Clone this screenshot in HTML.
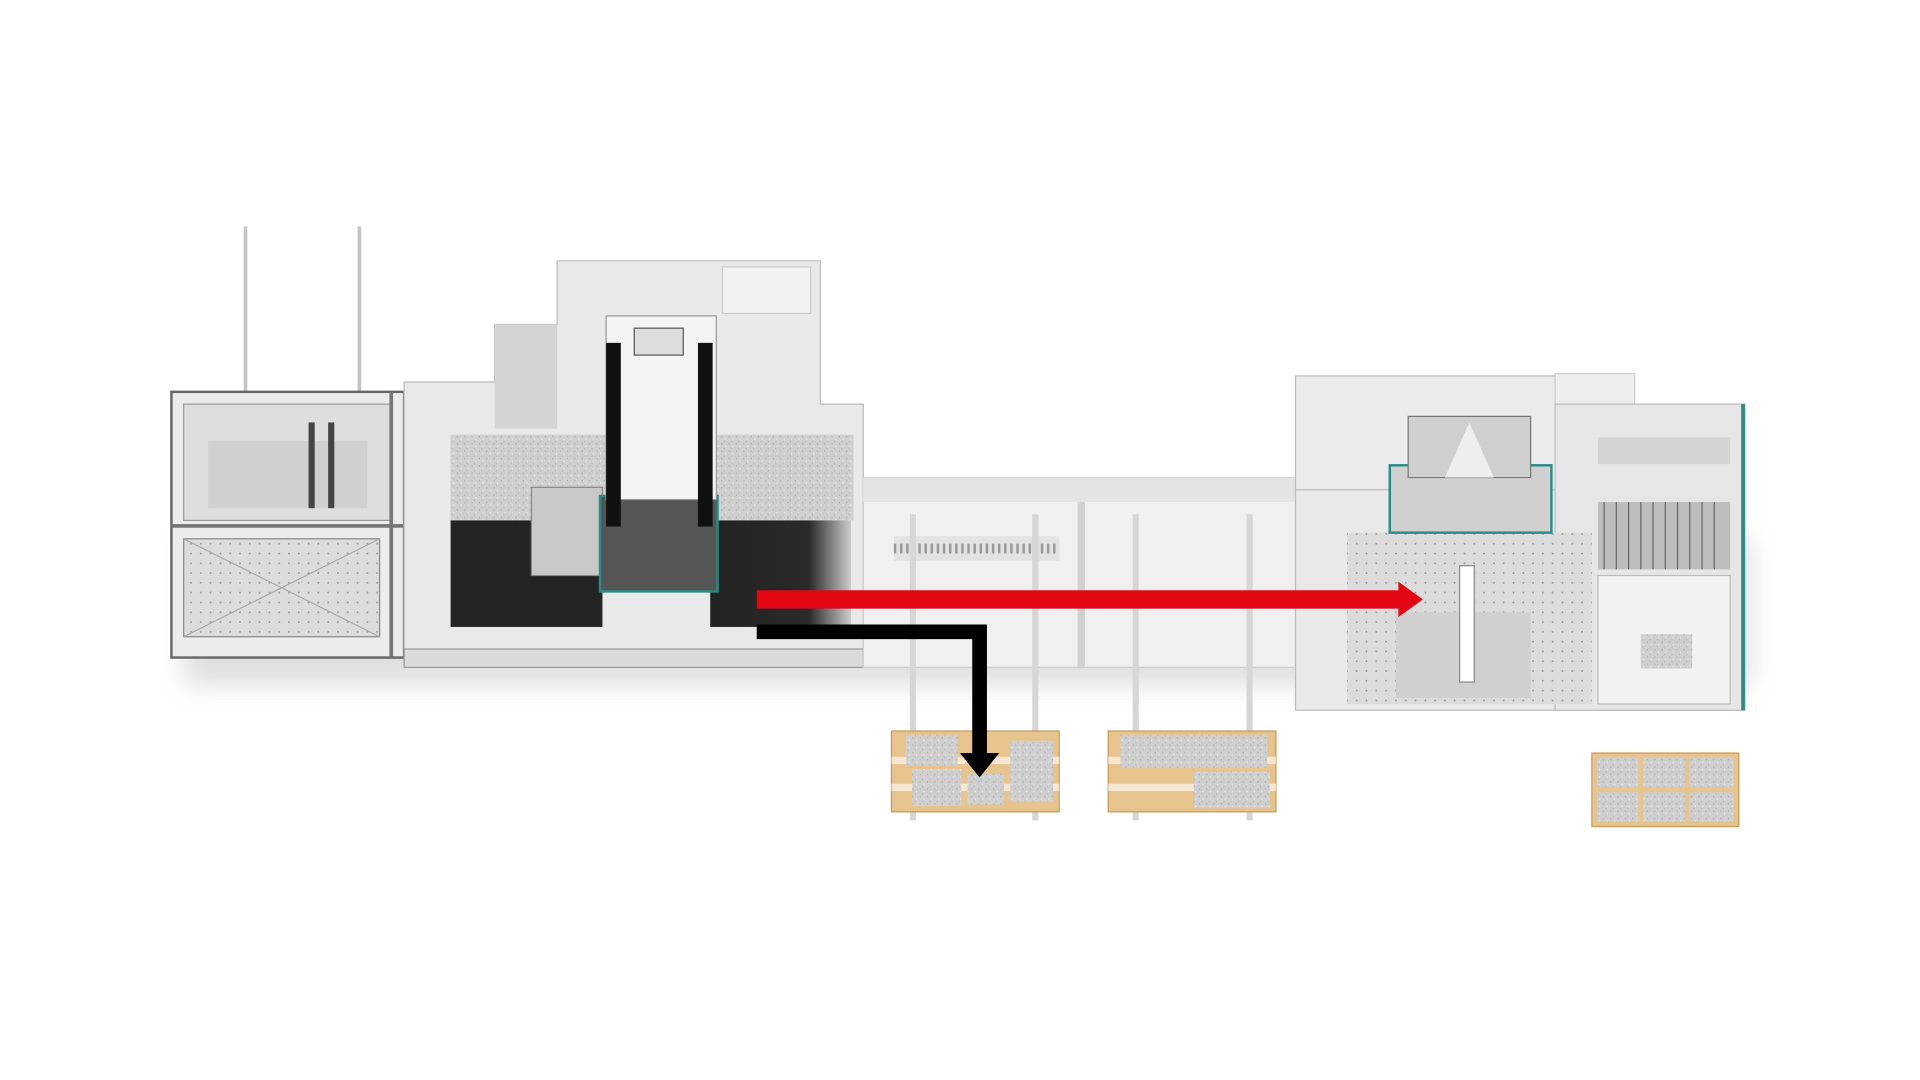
<!DOCTYPE html>
<html><head><meta charset="utf-8"><style>html,body{margin:0;padding:0;background:#fff;width:1920px;height:1080px;overflow:hidden}</style></head>
<body>
<svg width="1920" height="1080" viewBox="0 0 1568 882" preserveAspectRatio="none" xmlns="http://www.w3.org/2000/svg">
<defs>
<pattern id="dots" width="8" height="8" patternUnits="userSpaceOnUse"><rect width="8" height="8" fill="#dcdcdc"/><circle cx="4" cy="4" r="0.8" fill="#999"/></pattern>
<pattern id="gran" width="6" height="6" patternUnits="userSpaceOnUse"><rect width="6" height="6" fill="#cfcfcf"/><rect x="1" y="2" width="1" height="1" fill="#a8a8a8"/><rect x="4" y="4" width="1" height="1" fill="#eee"/><rect x="3" y="0" width="1" height="1" fill="#b5b5b5"/></pattern>
<linearGradient id="blk" x1="0" x2="1"><stop offset="0" stop-color="#222"/><stop offset="0.7" stop-color="#2a2a2a"/><stop offset="1" stop-color="#ccc"/></linearGradient>
<filter id="sh" x="-10%" y="-30%" width="120%" height="160%"><feGaussianBlur stdDeviation="10"/></filter>
</defs>
<rect width="1568" height="882" fill="#fff"/>
<!-- shadows -->
<g filter="url(#sh)" opacity="0.3"><rect x="150" y="440" width="1280" height="120" fill="#999"/></g>
<!-- poles -->
<rect x="199" y="185" width="3" height="135" fill="#c4c4c4"/><rect x="292" y="185" width="3" height="135" fill="#c4c4c4"/>
<!-- left module -->
<rect x="140" y="320" width="190" height="217" fill="#ececec" stroke="#666" stroke-width="2"/>
<rect x="150" y="330" width="170" height="95" fill="#dedede" stroke="#999"/>
<rect x="150" y="440" width="160" height="80" fill="url(#dots)" stroke="#888"/>
<line x1="150" y1="440" x2="310" y2="520" stroke="#aaa"/><line x1="310" y1="440" x2="150" y2="520" stroke="#aaa"/>
<rect x="170" y="360" width="130" height="55" fill="#d0d0d0"/>
<rect x="252" y="345" width="5" height="70" fill="#444"/><rect x="268" y="345" width="5" height="70" fill="#444"/>
<rect x="140" y="428" width="190" height="3" fill="#777"/>
<rect x="318" y="320" width="3" height="217" fill="#777"/>
<!-- middle machine body -->
<path d="M455 213 H670 V330 H705 V545 H330 V312 H404 V265 H455 Z" fill="#e9e9e9" stroke="#bbb"/>
<rect x="404" y="265" width="51" height="85" fill="#d4d4d4"/>
<rect x="590" y="218" width="72" height="38" fill="#f2f2f2" stroke="#ccc"/>
<rect x="368" y="355" width="132" height="70" fill="url(#gran)"/>
<rect x="580" y="355" width="117" height="70" fill="url(#gran)"/>
<rect x="368" y="425" width="124" height="87" fill="#242424"/>
<rect x="580" y="425" width="115" height="87" fill="url(#blk)"/>
<rect x="434" y="398" width="58" height="72" fill="#c8c8c8" stroke="#888"/>
<rect x="490" y="405" width="96" height="78" fill="#555" stroke="#2a8a85" stroke-width="2"/>
<rect x="495" y="258" width="90" height="150" fill="#f4f4f4" stroke="#999"/>
<rect x="495" y="280" width="12" height="150" fill="#111"/><rect x="570" y="280" width="12" height="150" fill="#111"/>
<rect x="518" y="268" width="40" height="22" fill="#ddd" stroke="#555"/>
<rect x="330" y="530" width="375" height="15" fill="#dadada" stroke="#999"/>
<!-- conveyor -->
<rect x="705" y="390" width="355" height="155" fill="#f0f0f0" stroke="#ccc"/>
<rect x="705" y="390" width="355" height="20" fill="#e4e4e4"/>
<rect x="730" y="438" width="135" height="20" fill="#e2e2e2"/>
<line x1="730" y1="448" x2="865" y2="448" stroke="#999" stroke-dasharray="2 3" stroke-width="8"/>
<rect x="743" y="420" width="5" height="250" fill="#d6d6d6"/><rect x="843" y="420" width="5" height="250" fill="#d6d6d6"/>
<rect x="925" y="420" width="5" height="250" fill="#d6d6d6"/><rect x="1018" y="420" width="5" height="250" fill="#d6d6d6"/>
<rect x="880" y="410" width="6" height="135" fill="#d0d0d0"/>
<!-- right machine -->
<rect x="1058" y="307" width="212" height="100" fill="#ebebeb" stroke="#bbb"/>
<rect x="1270" y="305" width="65" height="25" fill="#eee" stroke="#ccc"/>
<rect x="1058" y="400" width="367" height="180" fill="#e9e9e9" stroke="#bbb"/>
<rect x="1270" y="330" width="155" height="250" fill="#e6e6e6" stroke="#bbb"/>
<rect x="1422" y="330" width="3" height="250" fill="#2a8a85"/>
<rect x="1100" y="435" width="200" height="140" fill="url(#dots)"/>
<rect x="1140" y="500" width="110" height="70" fill="#d0d0d0"/>
<rect x="1192" y="462" width="12" height="95" fill="#fff" stroke="#888"/>
<rect x="1135" y="380" width="132" height="55" fill="#d0d0d0" stroke="#2a8a85" stroke-width="2"/>
<path d="M1150 340 H1250 V390 H1150 Z" fill="#cfcfcf" stroke="#777"/>
<polygon points="1180,390 1200,345 1220,390" fill="#eee"/>
<rect x="1305" y="357" width="108" height="22" fill="#d4d4d4"/>
<rect x="1305" y="410" width="108" height="55" fill="#bdbdbd"/>
<g stroke="#666" stroke-width="1">
<line x1="1310" y1="410" x2="1310" y2="465"/><line x1="1320" y1="410" x2="1320" y2="465"/><line x1="1330" y1="410" x2="1330" y2="465"/><line x1="1340" y1="410" x2="1340" y2="465"/><line x1="1350" y1="410" x2="1350" y2="465"/><line x1="1360" y1="410" x2="1360" y2="465"/><line x1="1370" y1="410" x2="1370" y2="465"/><line x1="1380" y1="410" x2="1380" y2="465"/><line x1="1390" y1="410" x2="1390" y2="465"/><line x1="1400" y1="410" x2="1400" y2="465"/></g>
<rect x="1305" y="470" width="108" height="105" fill="#f2f2f2" stroke="#bbb"/>
<rect x="1340" y="518" width="42" height="28" fill="url(#gran)"/>
<!-- pallets -->
<rect x="728" y="597" width="137" height="66" fill="#e7c38e" stroke="#c99a55"/>
<rect x="728" y="618" width="137" height="6" fill="#fff" opacity="0.6"/><rect x="728" y="640" width="137" height="6" fill="#fff" opacity="0.6"/>
<rect x="740" y="600" width="42" height="25" fill="url(#gran)"/><rect x="745" y="628" width="40" height="30" fill="url(#gran)"/>
<rect x="790" y="632" width="30" height="25" fill="url(#gran)"/><rect x="825" y="605" width="35" height="50" fill="url(#gran)"/>
<rect x="905" y="597" width="137" height="66" fill="#e7c38e" stroke="#c99a55"/>
<rect x="905" y="618" width="137" height="6" fill="#fff" opacity="0.6"/><rect x="905" y="640" width="137" height="6" fill="#fff" opacity="0.6"/>
<rect x="915" y="600" width="120" height="27" fill="url(#gran)"/><rect x="975" y="630" width="62" height="30" fill="url(#gran)"/>
<rect x="1300" y="615" width="120" height="60" fill="#e7c38e" stroke="#c99a55"/>
<rect x="1304" y="619" width="34" height="24" fill="url(#gran)"/><rect x="1342" y="619" width="34" height="24" fill="url(#gran)"/><rect x="1380" y="619" width="36" height="24" fill="url(#gran)"/>
<rect x="1304" y="647" width="34" height="24" fill="url(#gran)"/><rect x="1342" y="647" width="34" height="24" fill="url(#gran)"/><rect x="1380" y="647" width="36" height="24" fill="url(#gran)"/>
<!-- arrows -->
<polygon points="618,482 1142,482 1142,475 1162,489.5 1142,504 1142,497 618,497" fill="#e30613"/>
<path d="M618 510 H806 V615 H816 L800 635 L784 615 H794 V522 H618 Z" fill="#000"/>
</svg>
</body></html>
